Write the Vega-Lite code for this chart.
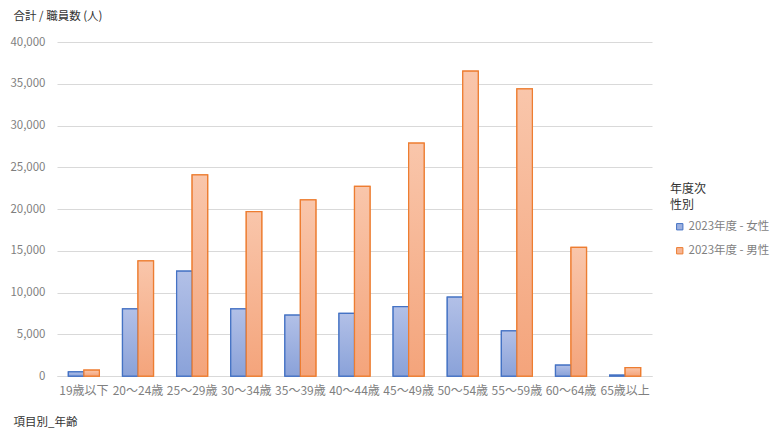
{
  "$schema": "https://vega.github.io/schema/vega-lite/v6.json",
  "width": 595,
  "height": 334,
  "autosize": {"type": "none"},
  "padding": {"left": 57, "top": 42, "right": 128, "bottom": 64},
  "background": "white",
  "data": {
    "values": [
      {"age": "19歳以下", "series": "2023年度 - 女性", "value": 480},
      {"age": "19歳以下", "series": "2023年度 - 男性", "value": 700},
      {"age": "20～24歳", "series": "2023年度 - 女性", "value": 8050},
      {"age": "20～24歳", "series": "2023年度 - 男性", "value": 13800},
      {"age": "25～29歳", "series": "2023年度 - 女性", "value": 12550},
      {"age": "25～29歳", "series": "2023年度 - 男性", "value": 24100},
      {"age": "30～34歳", "series": "2023年度 - 女性", "value": 8050},
      {"age": "30～34歳", "series": "2023年度 - 男性", "value": 19700},
      {"age": "35～39歳", "series": "2023年度 - 女性", "value": 7300},
      {"age": "35～39歳", "series": "2023年度 - 男性", "value": 21100},
      {"age": "40～44歳", "series": "2023年度 - 女性", "value": 7500},
      {"age": "40～44歳", "series": "2023年度 - 男性", "value": 22700},
      {"age": "45～49歳", "series": "2023年度 - 女性", "value": 8300},
      {"age": "45～49歳", "series": "2023年度 - 男性", "value": 27900},
      {"age": "50～54歳", "series": "2023年度 - 女性", "value": 9450},
      {"age": "50～54歳", "series": "2023年度 - 男性", "value": 36500},
      {"age": "55～59歳", "series": "2023年度 - 女性", "value": 5400},
      {"age": "55～59歳", "series": "2023年度 - 男性", "value": 34400},
      {"age": "60～64歳", "series": "2023年度 - 女性", "value": 1300},
      {"age": "60～64歳", "series": "2023年度 - 男性", "value": 15400},
      {"age": "65歳以上", "series": "2023年度 - 女性", "value": 100},
      {"age": "65歳以上", "series": "2023年度 - 男性", "value": 1000}
    ]
  },
  "encoding": {
    "x": {
      "field": "age",
      "type": "nominal",
      "sort": null,
      "scale": {"paddingInner": 0.427, "paddingOuter": 0.21},
      "axis": {
        "title": "項目別_年齢",
        "titleX": -44,
        "titleY": 46,
        "titleAlign": "left",
        "titleBaseline": "middle",
        "titleAngle": 0,
        "labelAngle": 0,
        "ticks": false,
        "domainColor": "#d9d9d9",
        "domainWidth": 1,
        "labelPadding": 9,
        "labelFontSize": 12,
        "labelColor": "#7f7f7f"
      }
    },
    "xOffset": {"field": "series", "type": "nominal", "sort": null},
    "y": {
      "field": "value",
      "type": "quantitative",
      "scale": {"domain": [0, 40000], "nice": false},
      "axis": {
        "title": "合計 / 職員数 (人)",
        "titleAngle": 0,
        "titleX": -44,
        "titleY": -26,
        "titleAlign": "left",
        "titleBaseline": "middle",
        "values": [0, 5000, 10000, 15000, 20000, 25000, 30000, 35000, 40000],
        "format": ",.0f",
        "grid": true,
        "gridColor": "#d9d9d9",
        "domain": false,
        "ticks": false,
        "labelPadding": 12,
        "labelFontSize": 11.5,
        "labelColor": "#7f7f7f"
      }
    }
  },
  "layer": [
    {
      "mark": {"type": "bar", "strokeWidth": 1.25},
      "encoding": {
        "fill": {
          "field": "series",
          "type": "nominal",
          "scale": {"range": ["#9db0df", "#f6b492"]},
          "legend": {"title": ["年度次", "性別"]}
        },
        "stroke": {
          "field": "series",
          "type": "nominal",
          "scale": {"range": ["#4472c4", "#ed7d31"]},
          "legend": {"title": ["年度次", "性別"]}
        }
      }
    },
    {
      "mark": {"type": "bar", "strokeWidth": 1.25},
      "encoding": {
        "fill": {
          "condition": {
            "test": "datum.series === '2023年度 - 女性'",
            "value": {
              "gradient": "linear", "x1": 0, "y1": 0, "x2": 0, "y2": 1,
              "stops": [{"offset": 0, "color": "#b2c0e7"}, {"offset": 1, "color": "#8aa2d9"}]
            }
          },
          "value": {
            "gradient": "linear", "x1": 0, "y1": 0, "x2": 0, "y2": 1,
            "stops": [{"offset": 0, "color": "#f9c6ab"}, {"offset": 1, "color": "#f4a47b"}]
          }
        },
        "stroke": {
          "condition": {"test": "datum.series === '2023年度 - 女性'", "value": "#4472c4"},
          "value": "#ed7d31"
        }
      }
    }
  ],
  "config": {
    "font": "Noto Sans CJK JP",
    "view": {"stroke": null},
    "axis": {"titleFontSize": 11.5, "titleFontWeight": "normal", "titleColor": "#333333"},
    "legend": {
      "orient": "none",
      "legendX": 613,
      "legendY": 142,
      "padding": 0,
      "symbolType": "square",
      "symbolSize": 40,
      "symbolStrokeWidth": 1,
      "symbolOffset": 4,
      "labelOffset": 3,
      "labelFontSize": 11.5,
      "labelColor": "#7f7f7f",
      "titleFontSize": 12,
      "titleFontWeight": 400,
      "titleColor": "#333333",
      "titleLineHeight": 16,
      "titlePadding": 9,
      "rowPadding": 11
    }
  }
}
